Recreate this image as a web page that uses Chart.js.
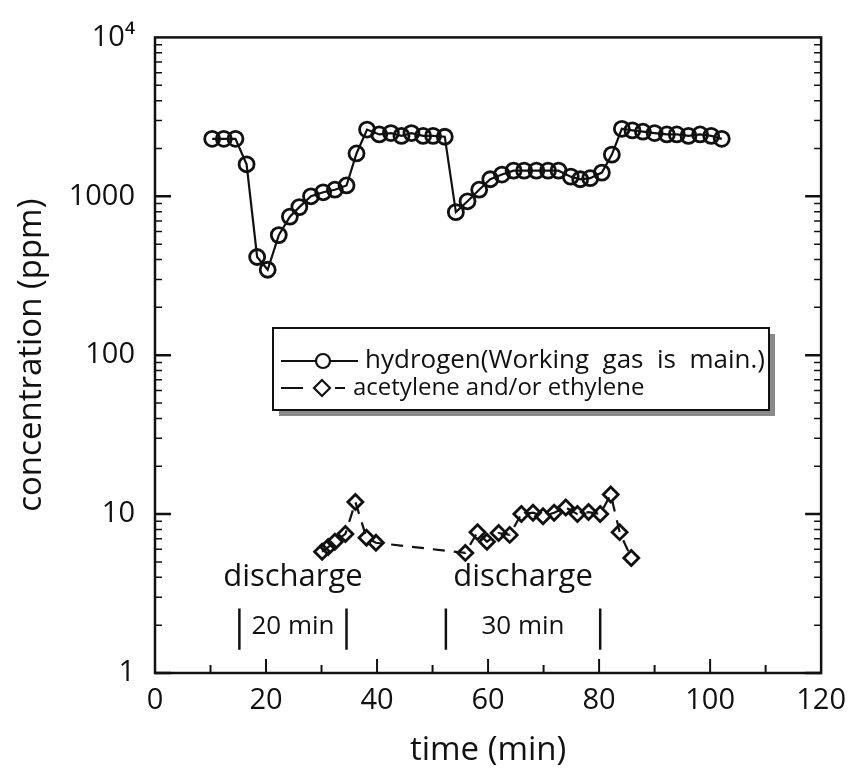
<!DOCTYPE html>
<html>
<head>
<meta charset="utf-8">
<script src="https://cdn.jsdelivr.net/npm/chart.js@4"></script>
<style>
  body { margin: 0; background: #fff; }
  canvas { display: block; }
</style>
</head>
<body>
<canvas id="chart" width="856" height="770"></canvas>
<script>
// hydrogen concentration
const hydrogenTime = [10.3, 12.4, 14.5, 16.5, 18.4, 20.3, 22.3, 24.3, 26.0, 28.1,
  30.3, 32.4, 34.5, 36.3, 38.2, 40.4, 42.5, 44.4, 46.2, 48.3, 50.1, 52.2,
  54.2, 56.3, 58.4, 60.4, 62.5, 64.6, 66.5, 68.7, 70.8, 72.7,
  74.9, 76.6, 78.4, 80.5, 82.3, 84.1,
  86.0, 87.9, 90.0, 92.2, 94.0, 96.1, 98.2, 100.2, 102.1];
const hydrogenPpm = [2300, 2300, 2300, 1590, 415, 345, 570, 745, 855, 1000,
  1060, 1100, 1170, 1860, 2630, 2450, 2500, 2400, 2500, 2400, 2400, 2370,
  795, 930, 1100, 1280, 1370, 1450, 1450, 1450, 1450, 1450,
  1330, 1280, 1300, 1410, 1830, 2660,
  2600, 2550, 2500, 2450, 2450, 2400, 2450, 2400, 2300];

// acetylene and/or ethylene
const acetyleneTime = [30.1, 31.2, 32.4, 34.3, 36.1, 38.1, 39.8,
  55.9, 58.1, 59.8, 61.9, 63.9, 66.0, 68.1, 69.9, 71.9, 74.0, 76.1, 78.1, 80.2, 82.1, 83.7, 85.8];
const acetylenePpm = [5.8, 6.2, 6.7, 7.5, 11.9, 7.1, 6.6,
  5.7, 7.7, 6.7, 7.6, 7.4, 10.0, 10.2, 9.7, 10.2, 11.0, 10.0, 10.3, 10.0, 13.3, 7.7, 5.3];

// axis ticks
const xTicks = [0, 20, 40, 60, 80, 100, 120];
const yTicks = [1, 10, 100, 1000, 10000];
const yTickLabels = ['1', '10', '100', '1000', '10\u2074'];

// discharge periods
const dischargeStart = [15.2, 52.4];
const dischargeEnd = [34.5, 80.2];
const dischargeLabels = ['20 min', '30 min'];

const legendLabels = ['hydrogen(Working  gas  is  main.)', 'acetylene and/or ethylene'];

const ink = '#111';
const font = 'Open Sans';

// frame, inner ticks, discharge notes and the boxed legend
const decorations = {
  id: 'decorations',
  afterDatasetsDraw(chart) {
    const ctx = chart.ctx;
    const area = chart.chartArea;
    const x = chart.scales.x;
    const y = chart.scales.y;
    ctx.save();
    ctx.strokeStyle = ink;
    ctx.lineWidth = 2.5;
    ctx.strokeRect(area.left, area.top, area.right - area.left, area.bottom - area.top);

    // x ticks (major every 20, minor every 10)
    ctx.lineWidth = 2;
    for (let v = 10; v < 120; v += 10) {
      const px = x.getPixelForValue(v);
      const len = v % 20 === 0 ? 14 : 8;
      ctx.beginPath();
      ctx.moveTo(px, area.bottom);
      ctx.lineTo(px, area.bottom - len);
      ctx.stroke();
    }
    // y ticks, log minors on left and right
    for (let d = 1; d < 10000; d *= 10) {
      for (let m = 1; m < 10; m++) {
        const py = y.getPixelForValue(d * m);
        const len = m === 1 ? 16 : 7;
        ctx.lineWidth = m === 1 ? 2.5 : 1.5;
        ctx.beginPath();
        ctx.moveTo(area.left, py);
        ctx.lineTo(area.left + len, py);
        ctx.moveTo(area.right, py);
        ctx.lineTo(area.right - len, py);
        ctx.stroke();
      }
    }

    // discharge annotations
    ctx.fillStyle = ink;
    ctx.textAlign = 'center';
    ctx.textBaseline = 'alphabetic';
    for (let i = 0; i < dischargeStart.length; i++) {
      const x0 = x.getPixelForValue(dischargeStart[i]);
      const x1 = x.getPixelForValue(dischargeEnd[i]);
      const mid = (x0 + x1) / 2;
      ctx.font = '31px "' + font + '"';
      ctx.fillText('discharge', mid, y.getPixelForValue(3.55));
      ctx.font = '26px "' + font + '"';
      ctx.fillText(dischargeLabels[i], mid, y.getPixelForValue(1.75));
      ctx.lineWidth = 2.5;
      ctx.beginPath();
      ctx.moveTo(x0, y.getPixelForValue(2.55));
      ctx.lineTo(x0, y.getPixelForValue(1.4));
      ctx.moveTo(x1, y.getPixelForValue(2.55));
      ctx.lineTo(x1, y.getPixelForValue(1.4));
      ctx.stroke();
    }

    // legend box with shadow
    const bx = 273, by = 328, bw = 496, bh = 82;
    ctx.fillStyle = '#8a8a8a';
    ctx.fillRect(bx + 6, by + 6, bw, bh);
    ctx.fillStyle = '#fff';
    ctx.fillRect(bx, by, bw, bh);
    ctx.lineWidth = 2;
    ctx.strokeStyle = ink;
    ctx.strokeRect(bx, by, bw, bh);

    const rows = [by + 33, by + 60];
    ctx.lineWidth = 2.2;
    ctx.beginPath();
    ctx.moveTo(bx + 8, rows[0]);
    ctx.lineTo(bx + 85, rows[0]);
    ctx.stroke();
    ctx.beginPath();
    ctx.arc(bx + 50, rows[0], 7, 0, Math.PI * 2);
    ctx.fillStyle = '#fff';
    ctx.fill();
    ctx.stroke();

    ctx.beginPath();
    ctx.moveTo(bx + 8, rows[1]);
    ctx.lineTo(bx + 30, rows[1]);
    ctx.moveTo(bx + 62, rows[1]);
    ctx.lineTo(bx + 72, rows[1]);
    ctx.stroke();
    ctx.beginPath();
    ctx.moveTo(bx + 49, rows[1] - 8);
    ctx.lineTo(bx + 57, rows[1]);
    ctx.lineTo(bx + 49, rows[1] + 8);
    ctx.lineTo(bx + 41, rows[1]);
    ctx.closePath();
    ctx.fill();
    ctx.stroke();

    ctx.fillStyle = ink;
    ctx.font = '26px "' + font + '"';
    ctx.textAlign = 'left';
    ctx.textBaseline = 'middle';
    ctx.fillText(legendLabels[0], bx + 92, rows[0]);
    ctx.font = '24px "' + font + '"';
    ctx.fillText(legendLabels[1], bx + 80, rows[1]);
    ctx.restore();
  }
};

const config = {
  type: 'line',
  data: {
    datasets: [
      {
        label: legendLabels[0],
        data: hydrogenTime.map((t, i) => ({ x: t, y: hydrogenPpm[i] })),
        borderColor: ink,
        borderWidth: 2.2,
        pointStyle: 'circle',
        pointRadius: 7.5,
        pointBorderWidth: 2.8,
        pointBorderColor: ink,
        pointBackgroundColor: 'rgba(255,255,255,0)',
        fill: false,
        tension: 0
      },
      {
        label: legendLabels[1],
        data: acetyleneTime.map((t, i) => ({ x: t, y: acetylenePpm[i] })),
        borderColor: ink,
        borderWidth: 2.2,
        borderDash: [12, 9],
        pointStyle: 'rectRot',
        pointRadius: 7.5,
        pointBorderWidth: 2.8,
        pointBorderColor: ink,
        pointBackgroundColor: 'rgba(255,255,255,0)',
        fill: false,
        tension: 0
      }
    ]
  },
  options: {
    responsive: false,
    devicePixelRatio: 1,
    animation: false,
    layout: { padding: { top: 34, right: 28, left: 0, bottom: 0 } },
    plugins: { legend: { display: false }, tooltip: { enabled: false } },
    scales: {
      x: {
        type: 'linear',
        min: 0,
        max: 120,
        afterFit: (scale) => { scale.height = 97; },
        afterBuildTicks: (scale) => { scale.ticks = xTicks.map((v) => ({ value: v })); },
        grid: { display: false, drawTicks: false },
        border: { display: false },
        ticks: { padding: 10, color: ink, font: { family: font, size: 29 }, maxRotation: 0 },
        title: { display: true, text: 'time (min)', color: ink, font: { family: font, size: 33 }, padding: { top: 0, bottom: 0 } }
      },
      y: {
        type: 'logarithmic',
        min: 1,
        max: 10000,
        afterFit: (scale) => { scale.width = 155; },
        afterBuildTicks: (scale) => { scale.ticks = yTicks.map((v) => ({ value: v })); },
        grid: { display: false, drawTicks: false },
        border: { display: false },
        ticks: {
          padding: 20,
          color: ink,
          font: { family: font, size: 29 },
          callback: (value) => yTickLabels[yTicks.indexOf(value)]
        },
        title: { display: true, text: 'concentration (ppm)', color: ink, font: { family: font, size: 33 }, padding: { top: 12, bottom: 0 } }
      }
    }
  },
  plugins: [decorations]
};

const ctx = document.getElementById('chart').getContext('2d');
new Chart(ctx, config);
</script>
</body>
</html>
